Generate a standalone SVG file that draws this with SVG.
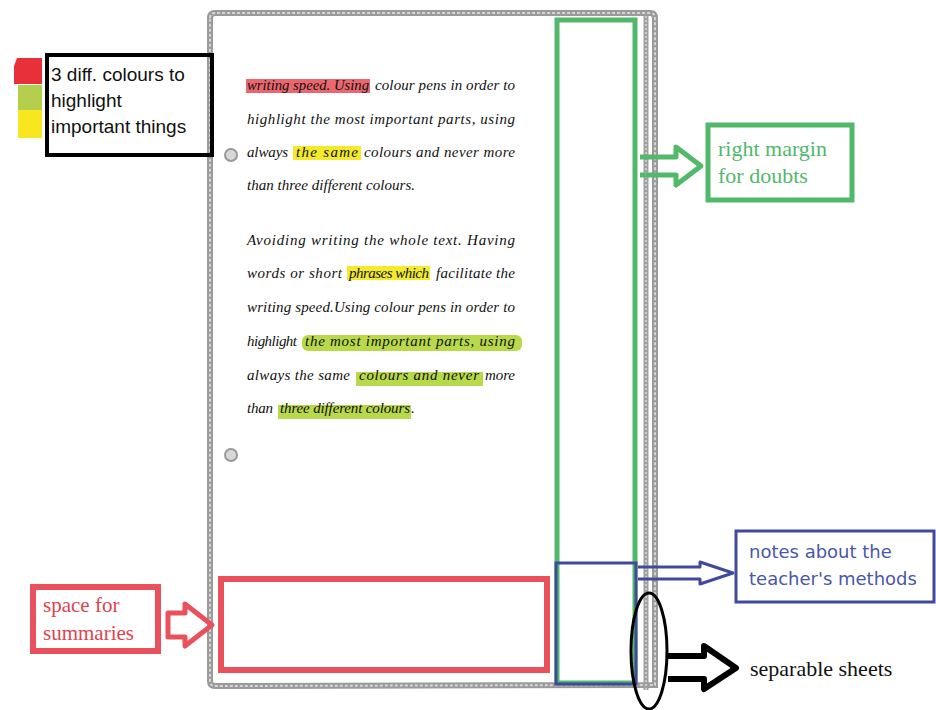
<svg xmlns="http://www.w3.org/2000/svg" width="936" height="710" viewBox="0 0 936 710">
<defs>
<style>
.pg{fill:none;stroke:#9a9a9a;stroke-width:6}
.pgt{fill:none;stroke:#d6d6d6;stroke-width:2;stroke-dasharray:3 2}
.hw{font-family:"Liberation Serif",serif;font-style:italic;font-size:15px;fill:#111}
.green{fill:none;stroke:#52b86a;stroke-width:5}
.red{fill:none;stroke:#e9525c;stroke-width:6}
.blue{fill:none;stroke:#3f4a9c;stroke-width:3}
.arrow{stroke-linejoin:round}
</style>
</defs>
<rect width="936" height="710" fill="#fff"/>

<g id="page">
<path class="pg" d="M210,18 Q210,13 215,13 L650,13 Q655,13 655,18 L655,685 L215,686 Q210,686 210,681 Z"/>
<path class="pgt" d="M210,18 Q210,13 215,13 L650,13 Q655,13 655,18 L655,685 L215,686 Q210,686 210,681 Z"/>
<line x1="646" y1="16" x2="646" y2="690" stroke="#a0a0a0" stroke-width="5"/>
<line x1="646" y1="16" x2="646" y2="690" stroke="#dadada" stroke-width="1.5" stroke-dasharray="2 2"/>
<circle cx="231" cy="155" r="6" fill="#d8d8d8" stroke="#999" stroke-width="2"/>
<circle cx="231" cy="455" r="6" fill="#d8d8d8" stroke="#999" stroke-width="2"/>
</g>

<g id="highlights">
<rect x="246" y="79" width="124" height="14" fill="#e8565e" opacity="0.9"/>
<rect x="293" y="146" width="68" height="14" fill="#f2ea2a"/>
<rect x="347" y="266" width="83" height="14" fill="#f2ea2a"/>
<rect x="302" y="335" width="220" height="16" rx="6" fill="#b8d94a"/>
<rect x="356" y="372" width="127" height="14" fill="#b8d94a"/>
<rect x="278" y="405" width="133" height="14" fill="#b8d94a"/>
</g>

<g id="notes-text" class="hw">
<text x="247" y="90" textLength="122" lengthAdjust="spacingAndGlyphs">writing speed. Using</text>
<text x="375" y="90" textLength="140" lengthAdjust="spacing">colour pens in order to</text>
<text x="247" y="124" textLength="268" lengthAdjust="spacing">highlight the most important parts, using</text>
<text x="247" y="157" textLength="41" lengthAdjust="spacing">always</text>
<text x="296" y="157" textLength="62" lengthAdjust="spacing">the same</text>
<text x="364" y="157" textLength="151" lengthAdjust="spacing">colours and never more</text>
<text x="247" y="190" textLength="168" lengthAdjust="spacing">than three different colours.</text>
<text x="247" y="245" textLength="268" lengthAdjust="spacing">Avoiding writing the whole text. Having</text>
<text x="247" y="278" textLength="95" lengthAdjust="spacing">words or short</text>
<text x="349" y="278" textLength="80" lengthAdjust="spacing">phrases which</text>
<text x="436" y="278" textLength="79" lengthAdjust="spacing">facilitate the</text>
<text x="247" y="312" textLength="268" lengthAdjust="spacing">writing speed.Using colour pens in order to</text>
<text x="247" y="346" textLength="50" lengthAdjust="spacing">highlight</text>
<text x="305" y="346" textLength="210" lengthAdjust="spacing">the most important parts, using</text>
<text x="247" y="380" textLength="103" lengthAdjust="spacing">always the same</text>
<text x="359" y="380" textLength="120" lengthAdjust="spacing">colours and never</text>
<text x="485" y="380" textLength="30" lengthAdjust="spacing">more</text>
<text x="247" y="413" textLength="26" lengthAdjust="spacing">than</text>
<text x="280" y="413" textLength="130" lengthAdjust="spacing">three different colours</text>
<text x="411" y="413">.</text>
</g>

<g id="colours-note">
<path d="M17,58 L42,58 L42,84 L14,84 L14,66 Z" fill="#e8303a"/>
<rect x="18" y="85" width="24" height="25" fill="#b5cf4c"/>
<rect x="18" y="110" width="24" height="28" fill="#f7e620"/>
<rect x="47" y="55" width="165" height="100" fill="none" stroke="#000" stroke-width="4"/>
<g font-family="Liberation Sans,Arial,sans-serif" font-size="19" fill="#111">
<text x="51" y="81">3 diff. colours to</text>
<text x="51" y="107">highlight</text>
<text x="51" y="133">important things</text>
</g>
</g>

<g id="right-margin">
<rect class="green" x="557" y="20" width="78" height="663"/>
</g>
<g id="right-margin-label">
<rect class="green" x="708" y="125" width="144" height="75"/>
<g font-family="Liberation Serif,serif" font-size="22" fill="#52b86a">
<text x="718" y="156">right margin</text>
<text x="718" y="183">for doubts</text>
</g>
</g>

<g id="teacher-notes">
<rect class="blue" x="556" y="563" width="80" height="121"/>
</g>
<g id="teacher-notes-label">
<rect class="blue" x="736" y="531" width="198" height="71"/>
<g font-family="DejaVu Sans,Verdana,sans-serif" font-size="18" fill="#4a57a8">
<text x="749" y="558">notes about the</text>
<text x="749" y="585">teacher's methods</text>
</g>
</g>

<g id="summaries">
<rect class="red" x="221" y="579" width="326" height="91"/>
</g>
<g id="summaries-label">
<rect class="red" x="33" y="587" width="125" height="64"/>
<g font-family="Liberation Serif,serif" font-size="21" fill="#e0434e">
<text x="43" y="612">space for</text>
<text x="43" y="640">summaries</text>
</g>
</g>

<g id="separable-sheets">
<ellipse cx="649" cy="651" rx="18" ry="58" fill="none" stroke="#000" stroke-width="3"/>
<text x="750" y="676" font-family="Liberation Serif,serif" font-size="22" fill="#111">separable sheets</text>
</g>

<g id="connectors" class="arrow">
<path d="M640,157 L676,157 L676,147 L701,166 L676,185 L676,175 L640,175" fill="none" stroke="#52b86a" stroke-width="5"/>
<path d="M638,567 L700,567 L700,562 L733,573 L700,584 L700,579 L638,579" fill="none" stroke="#3f4a9c" stroke-width="3"/>
<path d="M168,613 L185,613 L185,604 L212,625 L185,646 L185,637 L168,637 Z" fill="none" stroke="#e9525c" stroke-width="5"/>
<path d="M668,656 L704,656 L704,646 L736,668 L704,689 L704,679 L668,679" fill="none" stroke="#000" stroke-width="6"/>
</g>
</svg>
